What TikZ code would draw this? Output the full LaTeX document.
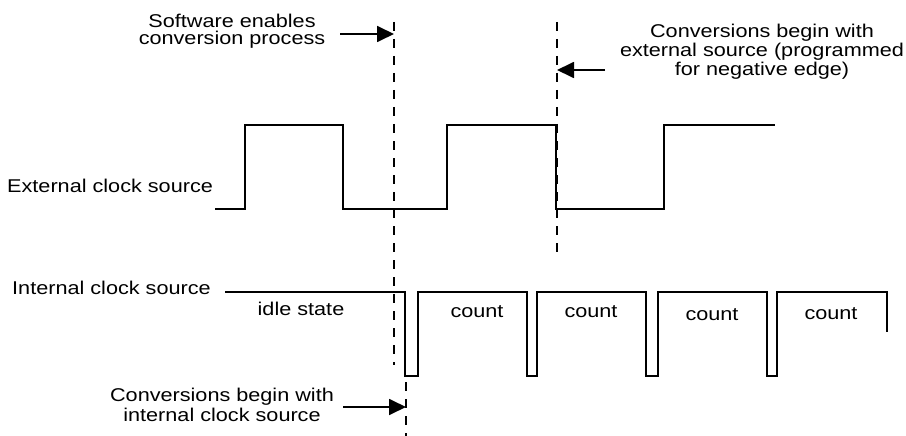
\documentclass[tikz,border=0pt]{standalone}
\usepackage{fontspec}
\setmainfont{Liberation Sans}[FakeStretch=1.17]
\usetikzlibrary{arrows.meta}
\begin{document}
\begin{tikzpicture}[x=1pt,y=-1pt,
  wave/.style={line width=1.7pt,line join=miter},
  guide/.style={line width=1.3pt,dash pattern=on 9pt off 8pt},
  pointer/.style={line width=1.8pt,-{Triangle[length=17pt,width=16pt]}},
  lbl/.style={inner sep=0pt,font=\fontsize{18.5}{19}\selectfont,align=center}]
\useasboundingbox (0,0) rectangle (906,436);
% labels
\node[lbl,anchor=base west] (ext) at (7,192) {External clock source};
\node[lbl,anchor=base west] (int) at (12,294) {Internal clock source};
\node[lbl,anchor=base] (idle) at (301,315) {idle state};
\node[lbl,anchor=base] (c1) at (477,317) {count};
\node[lbl,anchor=base] (c2) at (591,317) {count};
\node[lbl,anchor=base] (c3) at (712,320) {count};
\node[lbl,anchor=base] (c4) at (831,319) {count};
\node[lbl,anchor=base,font=\fontsize{18.5}{17.5}\selectfont] (sw) at (232,45) {Software enables\\conversion process};
\node[lbl,anchor=base] (ce) at (762,76) {Conversions begin with\\external source (programmed\\for negative edge)};
\node[lbl,anchor=base,font=\fontsize{18.5}{20}\selectfont] (ci) at (222,421) {Conversions begin with\\internal clock source};
% external clock
\draw[wave] (215,209) -- (245,209) -- (245,125) -- (343,125) -- (343,209) -- (447,209)
  -- (447,125) -- (556,125) -- (556,209) -- (664,209) -- (664,125) -- (775,125);
% internal clock
\draw[wave] (225,292) -- (405,292) -- (405,376) -- (418,376) -- (418,292) -- (527,292)
  -- (527,376) -- (537,376) -- (537,292) -- (646,292) -- (646,376) -- (658,376)
  -- (658,292) -- (767,292) -- (767,376) -- (777,376) -- (777,292) -- (887,292) -- (887,332);
% guides
\coordinate (g1t) at (394,22); \coordinate (g1b) at (394,365);
\coordinate (g2t) at (557,22); \coordinate (g2b) at (557,253);
\coordinate (g3t) at (406,382); \coordinate (g3b) at (406,436);
\draw[guide] (g1t) -- (g1b);
\draw[guide] (g2t) -- (g2b);
\draw[guide] (g3t) -- (g3b);
% pointers
\coordinate (a1s) at (340,34); \coordinate (a1e) at (394,34);
\coordinate (a2s) at (605,70); \coordinate (a2e) at (557,70);
\coordinate (a3s) at (343,407); \coordinate (a3e) at (406,407);
\draw[pointer] (a1s) -- (a1e);
\draw[pointer] (a2s) -- (a2e);
\draw[pointer] (a3s) -- (a3e);
\end{tikzpicture}
\end{document}
